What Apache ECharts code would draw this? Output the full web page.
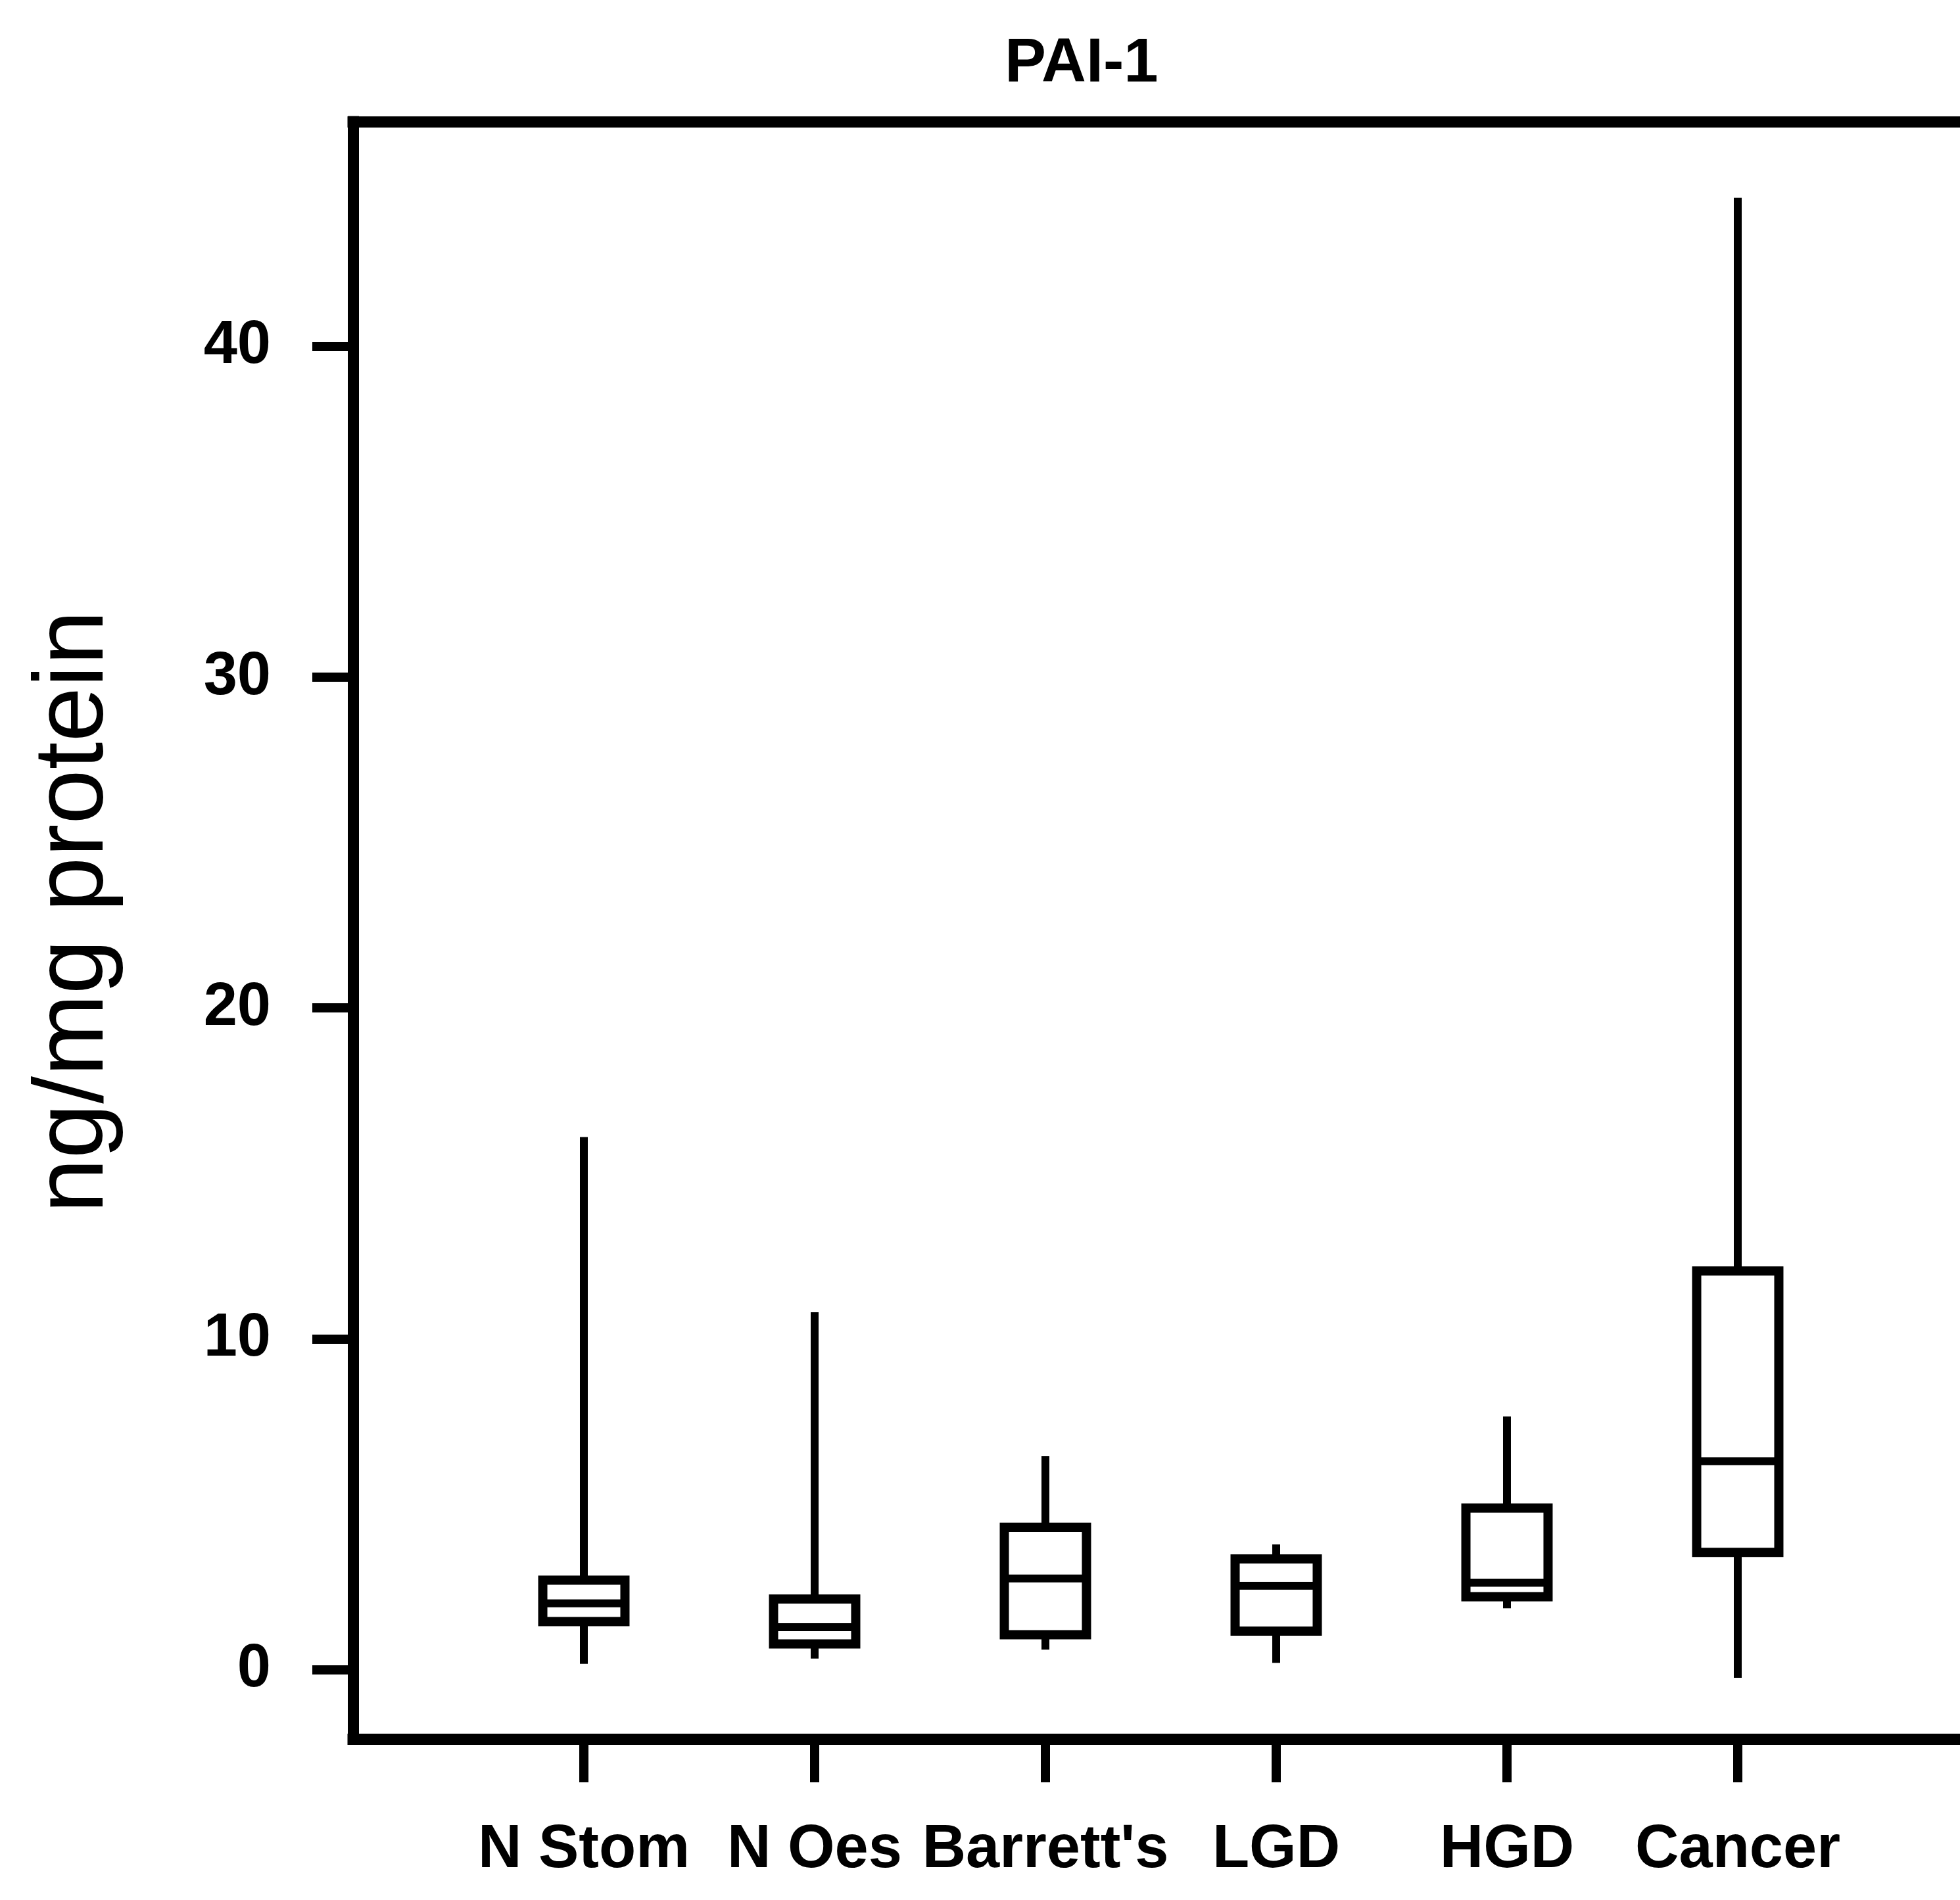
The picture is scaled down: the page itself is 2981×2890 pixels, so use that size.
<!DOCTYPE html>
<html>
<head>
<meta charset="utf-8">
<script src="https://cdn.jsdelivr.net/npm/echarts@6/dist/echarts.min.js"></script>
<style>
  html, body { margin: 0; padding: 0; background: #fff; }
  #chart { width: 2981px; height: 2890px; }
</style>
</head>
<body>
<div id="chart"></div>
<script>
// ---- data ----
const categories   = ["N Stom", "N Oes", "Barrett's", "LGD", "HGD", "Cancer"];
const lowWhisker   = [0.17, 0.33, 0.60, 0.20, 1.85, -0.25];
const q1Values     = [1.45, 0.77, 1.05, 1.16, 2.20, 3.54];
const medianValues = [2.00, 1.28, 2.75, 2.53, 2.62, 6.30];
const q3Values     = [2.70, 2.13, 4.30, 3.34, 4.88, 12.05];
const highWhisker  = [16.1, 10.8, 6.45, 3.78, 7.65, 44.5];
const yTicks       = [0, 10, 20, 30, 40];
const titleText    = "PAI-1";
const yAxisName    = "ng/mg protein";

const positions = categories.map((c, i) => i + 1);
const boxData = categories.map((c, i) => [
  positions[i], lowWhisker[i], q1Values[i], medianValues[i], q3Values[i], highWhisker[i]
]);

const FONT = "'Liberation Sans', Arial, Helvetica, sans-serif";
const chart = echarts.init(document.getElementById('chart'));
const frameLine = { color: '#000', width: 17, cap: 'square' };

chart.setOption({
  backgroundColor: '#ffffff',
  animation: false,
  title: {
    text: titleText,
    left: 1640,
    top: 46,
    textAlign: 'center',
    textStyle: { fontFamily: FONT, fontWeight: 'bold', fontSize: 94, color: '#000' }
  },
  grid: {
    left: 537,
    top: 185,
    right: 0,
    height: 2460,
    show: false
  },
  xAxis: [{
    type: 'value',
    min: 0,
    max: 6.963,
    position: 'bottom',
    axisLine: { show: true, onZero: false, lineStyle: frameLine },
    splitLine: { show: false },
    axisTick: {
      show: true,
      inside: false,
      length: 66,
      customValues: positions,
      lineStyle: { color: '#000', width: 14 }
    },
    axisLabel: {
      show: true,
      margin: 124,
      customValues: positions,
      formatter: v => categories[Math.round(v) - 1] || '',
      fontFamily: FONT,
      fontWeight: 'bold',
      fontSize: 92,
      color: '#000'
    }
  }, {
    type: 'value',
    min: 0,
    max: 6.963,
    position: 'top',
    axisLine: { show: true, onZero: false, lineStyle: frameLine },
    splitLine: { show: false },
    axisTick: { show: false },
    axisLabel: { show: false }
  }],
  yAxis: {
    type: 'value',
    min: -2.1,
    max: 46.8,
    name: yAxisName,
    nameLocation: 'middle',
    nameRotate: 90,
    nameGap: 347,
    nameTextStyle: { fontFamily: FONT, fontSize: 150, color: '#000', padding: [0, 0, 0, 56] },
    axisLine: { show: true, onZero: false, lineStyle: frameLine },
    splitLine: { show: false },
    axisTick: {
      show: true,
      inside: false,
      length: 62,
      customValues: yTicks,
      lineStyle: { color: '#000', width: 14 }
    },
    axisLabel: {
      show: true,
      margin: 125,
      customValues: yTicks,
      fontFamily: FONT,
      fontWeight: 'bold',
      fontSize: 92,
      color: '#000'
    }
  },
  series: [{
    type: 'custom',
    xAxisIndex: 0,
    yAxisIndex: 0,
    data: boxData,
    encode: { x: 0, y: [1, 2, 3, 4, 5] },
    clip: false,
    renderItem: function (params, api) {
      const x = api.value(0);
      const lo = api.coord([x, api.value(1)]);
      const q1 = api.coord([x, api.value(2)]);
      const md = api.coord([x, api.value(3)]);
      const q3 = api.coord([x, api.value(4)]);
      const hi = api.coord([x, api.value(5)]);
      const w = api.size([0.356, 0])[0];
      const cx = q1[0];
      const lineStyle = { stroke: '#000', lineWidth: 12, fill: null };
      return {
        type: 'group',
        children: [
          { type: 'line', shape: { x1: cx, y1: q3[1], x2: cx, y2: hi[1] }, style: lineStyle },
          { type: 'line', shape: { x1: cx, y1: q1[1], x2: cx, y2: lo[1] }, style: lineStyle },
          { type: 'rect', shape: { x: cx - w / 2, y: q3[1], width: w, height: q1[1] - q3[1] },
            style: { fill: '#fff', stroke: '#000', lineWidth: 14 } },
          { type: 'line', shape: { x1: cx - w / 2, y1: md[1], x2: cx + w / 2, y2: md[1] }, style: lineStyle }
        ]
      };
    }
  }]
});
</script>
</body>
</html>
